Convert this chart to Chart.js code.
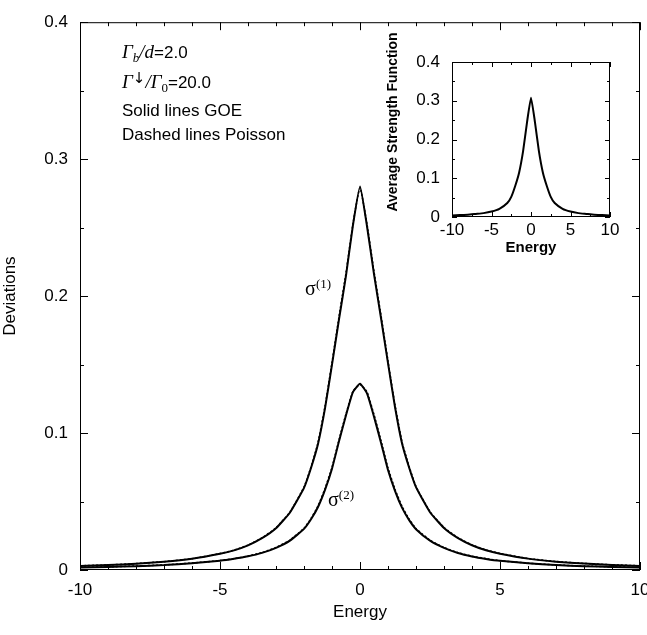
<!DOCTYPE html>
<html>
<head>
<meta charset="utf-8">
<script src="https://cdn.jsdelivr.net/npm/chart.js@4.4.0/dist/chart.umd.min.js"></script>
<style>
  html, body { margin: 0; padding: 0; background: #fff; }
  #wrap { position: relative; width: 647px; height: 635px; }
  #main { position: absolute; left: 0; top: 0; }
  #inset { position: absolute; left: 370px; top: 20px; }
</style>
</head>
<body>
<div id="wrap">
  <canvas id="main" width="647" height="635"></canvas>
  <canvas id="inset" width="270" height="240"></canvas>
</div>
<script>
// Main panel: deviations vs energy
const energy = [-10, -9, -8, -7, -6, -5, -4.5, -4, -3.5, -3, -2.5, -2, -1.75, -1.5, -1.25, -1, -0.75, -0.5, -0.25, 0,
                0.25, 0.5, 0.75, 1, 1.25, 1.5, 1.75, 2, 2.5, 3, 3.5, 4, 4.5, 5, 6, 7, 8, 9, 10];
const sigma1GOE = [0.0030, 0.0036, 0.0046, 0.0060, 0.0082, 0.0118, 0.0143, 0.0180, 0.0232, 0.0305, 0.0420, 0.0600, 0.0745, 0.0920, 0.1180, 0.1500, 0.1830, 0.2150, 0.2520, 0.2800,
                   0.2510, 0.2160, 0.1840, 0.1510, 0.1190, 0.0925, 0.0750, 0.0605, 0.0422, 0.0307, 0.0233, 0.0181, 0.0144, 0.0119, 0.0083, 0.0061, 0.0047, 0.0037, 0.0030];
const sigma1Poisson = [0.0031, 0.0037, 0.0047, 0.0061, 0.0083, 0.0120, 0.0145, 0.0182, 0.0235, 0.0308, 0.0424, 0.0606, 0.0752, 0.0930, 0.1195, 0.1515, 0.1850, 0.2170, 0.2530, 0.2790,
                       0.2525, 0.2180, 0.1860, 0.1525, 0.1205, 0.0935, 0.0758, 0.0610, 0.0426, 0.0310, 0.0236, 0.0183, 0.0146, 0.0121, 0.0084, 0.0062, 0.0048, 0.0038, 0.0031];
const sigma2GOE = [0.0018, 0.0022, 0.0028, 0.0036, 0.0050, 0.0068, 0.0082, 0.0100, 0.0125, 0.0162, 0.0215, 0.0300, 0.0370, 0.0460, 0.0585, 0.0740, 0.0940, 0.1130, 0.1300, 0.1360,
                   0.1290, 0.1120, 0.0930, 0.0730, 0.0578, 0.0455, 0.0366, 0.0298, 0.0214, 0.0161, 0.0124, 0.0099, 0.0081, 0.0067, 0.0049, 0.0036, 0.0028, 0.0022, 0.0018];
const sigma2Poisson = [0.0019, 0.0023, 0.0029, 0.0037, 0.0051, 0.0069, 0.0083, 0.0102, 0.0127, 0.0165, 0.0219, 0.0305, 0.0376, 0.0468, 0.0594, 0.0750, 0.0950, 0.1140, 0.1305, 0.1355,
                       0.1300, 0.1135, 0.0945, 0.0745, 0.0590, 0.0465, 0.0373, 0.0303, 0.0218, 0.0164, 0.0126, 0.0101, 0.0083, 0.0068, 0.0050, 0.0037, 0.0029, 0.0023, 0.0019];
const xTicks = [-10, -5, 0, 5, 10];
const yTicks = [0, 0.1, 0.2, 0.3, 0.4];

// Inset: average strength function
const insetEnergy = [-10, -9, -8, -7, -6, -5, -4, -3, -2.5, -2, -1.5, -1, -0.5, 0, 0.5, 1, 1.5, 2, 2.5, 3, 4, 5, 6, 7, 8, 9, 10];
const strength = [0.004, 0.005, 0.006, 0.008, 0.010, 0.014, 0.021, 0.036, 0.052, 0.080, 0.115, 0.170, 0.245, 0.308,
                  0.245, 0.170, 0.115, 0.080, 0.052, 0.036, 0.021, 0.014, 0.010, 0.008, 0.006, 0.005, 0.004];
const insetYTicks = [0, 0.1, 0.2, 0.3, 0.4];

const SANS = '"Liberation Sans", Arial, Helvetica, sans-serif';
const SERIF = '"Liberation Serif", "Times New Roman", serif';

function pts(xs, ys) {
  return xs.map((x, i) => ({ x: x, y: ys[i] }));
}

// frame with inward ticks on all four sides (gnuplot style)
function frameTicks(id, xMinorStep, yMinorStep, majorLen, minorLen) {
  return {
    id: id,
    afterDatasetsDraw(chart) {
      const { ctx, chartArea: a, scales: { x, y } } = chart;
      ctx.save();
      ctx.strokeStyle = '#000';
      ctx.lineWidth = 1;
      ctx.strokeRect(a.left + 0.5, a.top + 0.5, a.right - a.left - 1, a.bottom - a.top - 1);
      ctx.beginPath();
      const nx = Math.round((x.max - x.min) / xMinorStep);
      for (let i = 0; i <= nx; i++) {
        const v = x.min + i * xMinorStep;
        const px = Math.round(x.getPixelForValue(v)) + 0.5;
        const major = x.ticks.some(t => Math.abs(t.value - v) < 1e-9);
        const len = major ? majorLen : minorLen;
        ctx.moveTo(px, a.bottom); ctx.lineTo(px, a.bottom - len);
        ctx.moveTo(px, a.top); ctx.lineTo(px, a.top + len);
      }
      const ny = Math.round((y.max - y.min) / yMinorStep);
      for (let i = 0; i <= ny; i++) {
        const v = y.min + i * yMinorStep;
        const py = Math.round(y.getPixelForValue(v)) + 0.5;
        const major = y.ticks.some(t => Math.abs(t.value - v) < 1e-9);
        const len = major ? majorLen : minorLen;
        ctx.moveTo(a.left, py); ctx.lineTo(a.left + len, py);
        ctx.moveTo(a.right, py); ctx.lineTo(a.right - len, py);
      }
      ctx.stroke();
      ctx.restore();
    }
  };
}

// draw runs of text with mixed fonts / sub / superscripts
function drawRuns(ctx, x, y, runs) {
  let cx = x;
  runs.forEach(r => {
    ctx.font = r.font;
    ctx.fillText(r.t, cx, y + (r.dy || 0));
    cx += ctx.measureText(r.t).width + (r.gap || 0);
  });
}

const annotations = {
  id: 'annotations',
  afterDraw(chart) {
    const { ctx, scales: { x, y } } = chart;
    ctx.save();
    ctx.fillStyle = '#000';
    ctx.textBaseline = 'alphabetic';
    const it = 'italic 19px ' + SERIF;
    const itS = 'italic 13px ' + SERIF;
    const sans = '17px ' + SANS;
    drawRuns(ctx, 122, 58, [
      { t: 'Γ', font: it }, { t: 'b', font: itS, dy: 4 }, { t: '/', font: it }, { t: 'd', font: it },
      { t: '=2.0', font: sans }
    ]);
    drawRuns(ctx, 122, 88, [
      { t: 'Γ', font: it }, { t: '↓', font: '15px "DejaVu Sans", sans-serif', dy: -5 }, { t: '/', font: it },
      { t: 'Γ', font: it }, { t: '0', font: '13px ' + SERIF, dy: 4 }, { t: '=20.0', font: sans }
    ]);
    ctx.font = sans;
    ctx.fillText('Solid lines GOE', 122, 116);
    ctx.fillText('Dashed lines Poisson', 122, 140);

    // curve labels placed in data coordinates
    const s1x = x.getPixelForValue(-1.96), s1y = y.getPixelForValue(0.2007);
    drawRuns(ctx, s1x, s1y, [{ t: 'σ', font: '20px ' + SERIF }, { t: '(1)', font: '13px ' + SERIF, dy: -7 }]);
    const s2x = x.getPixelForValue(-1.14), s2y = y.getPixelForValue(0.0466);
    drawRuns(ctx, s2x, s2y, [{ t: 'σ', font: '20px ' + SERIF }, { t: '(2)', font: '13px ' + SERIF, dy: -7 }]);
    ctx.restore();
  }
};

function lineSet(data, dashed) {
  return {
    data: data,
    borderColor: '#000',
    borderWidth: dashed ? 1.5 : 2,
    borderDash: dashed ? [2, 2] : [],
    pointRadius: 0,
    fill: false,
    tension: 0.15
  };
}

new Chart(document.getElementById('main'), {
  type: 'line',
  data: {
    datasets: [
      lineSet(pts(energy, sigma1Poisson), true),
      lineSet(pts(energy, sigma2Poisson), true),
      lineSet(pts(energy, sigma1GOE), false),
      lineSet(pts(energy, sigma2GOE), false)
    ]
  },
  options: {
    responsive: false,
    animation: false,
    devicePixelRatio: 1,
    layout: { autoPadding: false, padding: { top: 12, right: 7, left: 0, bottom: 0 } },
    plugins: { legend: { display: false }, tooltip: { enabled: false } },
    scales: {
      x: {
        type: 'linear', min: -10, max: 10,
        afterBuildTicks: s => { s.ticks = xTicks.map(v => ({ value: v })); },
        afterFit: s => { s.height = 65; s.paddingLeft = 0; s.paddingRight = 0; },
        grid: { display: false, drawTicks: false },
        border: { display: false },
        ticks: { padding: 10, color: '#000', font: { family: SANS, size: 17 }, maxRotation: 0 },
        title: { display: true, text: 'Energy', color: '#000', font: { family: SANS, size: 17 }, padding: { top: 0, bottom: 12 } }
      },
      y: {
        type: 'linear', min: 0, max: 0.4,
        afterBuildTicks: s => { s.ticks = yTicks.map(v => ({ value: v })); },
        afterFit: s => { s.width = 80; },
        grid: { display: false, drawTicks: false },
        border: { display: false },
        ticks: { padding: 12, color: '#000', font: { family: SANS, size: 17 }, callback: v => String(v) },
        title: { display: true, text: 'Deviations', color: '#000', font: { family: SANS, size: 17 }, padding: { top: 0, bottom: 0 } }
      }
    }
  },
  plugins: [frameTicks('mainFrame', 1, 0.05, 8, 4), annotations]
});

const insetTitle = {
  id: 'insetTitle',
  afterDraw(chart) {
    const { ctx, chartArea: a } = chart;
    ctx.save();
    ctx.fillStyle = '#000';
    ctx.font = 'bold 14px ' + SANS;
    ctx.textAlign = 'center';
    ctx.textBaseline = 'middle';
    ctx.translate(a.left - 59, a.top + 60);
    ctx.rotate(-Math.PI / 2);
    ctx.fillText('Average Strength Function', 0, 0);
    ctx.restore();
  }
};

new Chart(document.getElementById('inset'), {
  type: 'line',
  data: {
    datasets: [lineSet(pts(insetEnergy, strength), false)]
  },
  options: {
    responsive: false,
    animation: false,
    devicePixelRatio: 1,
    layout: { autoPadding: false, padding: { top: 42, right: 30, left: 0, bottom: 0 } },
    plugins: { legend: { display: false }, tooltip: { enabled: false } },
    scales: {
      x: {
        type: 'linear', min: -10, max: 10,
        afterBuildTicks: s => { s.ticks = xTicks.map(v => ({ value: v })); },
        afterFit: s => { s.height = 43; s.paddingLeft = 0; s.paddingRight = 0; },
        grid: { display: false, drawTicks: false },
        border: { display: false },
        ticks: { padding: 3, color: '#000', font: { family: SANS, size: 17 }, maxRotation: 0 },
        title: { display: true, text: 'Energy', color: '#000', font: { family: SANS, size: 15, weight: 'bold' }, padding: { top: 0, bottom: 3 } }
      },
      y: {
        type: 'linear', min: 0, max: 0.4,
        afterBuildTicks: s => { s.ticks = insetYTicks.map(v => ({ value: v })); },
        afterFit: s => { s.width = 82; },
        grid: { display: false, drawTicks: false },
        border: { display: false },
        ticks: { padding: 12, color: '#000', font: { family: SANS, size: 17 }, callback: v => String(v) }
      }
    }
  },
  plugins: [frameTicks('insetFrame', 2.5, 0.05, 5, 3), insetTitle]
});
</script>
</body>
</html>
